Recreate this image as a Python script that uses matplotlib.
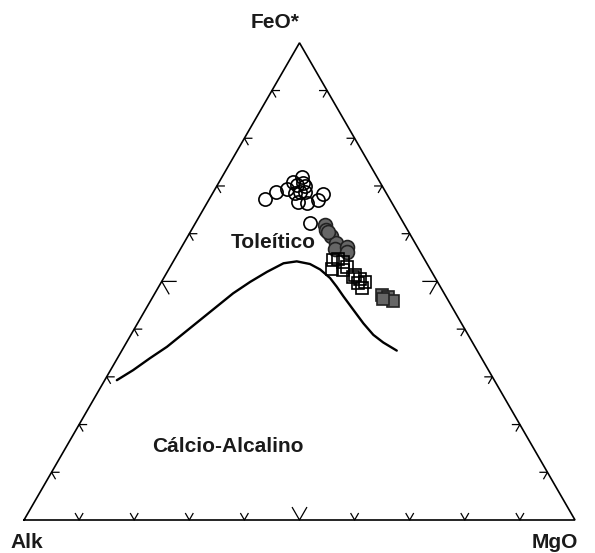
import numpy as np
import matplotlib.pyplot as plt

plt.rcParams['font.family'] = ['Liberation Sans', 'DejaVu Sans']

# AFM compositions (%): FeO*, Alk (Na2O+K2O), MgO
circ_open_feo = [67.3, 68.8, 69.3, 70.9, 71.8, 69.9, 66.7, 66.5, 67.0, 68.4, 62.3, 70.2, 70.6, 68.7, 68.7, 68.5]
circ_open_alk = [22.6, 19.9, 17.7, 15.7, 13.7, 14.1, 16.9, 15.4, 13.1, 11.6, 16.9, 15.4, 14.0, 15.5, 14.6, 16.6]
circ_open_mgo = [10.1, 11.3, 13.0, 13.4, 14.5, 16.0, 16.4, 18.1, 19.9, 20.0, 20.8, 14.4, 15.4, 15.8, 16.7, 14.9]

circ_fill_feo = [61.8, 60.8, 59.5, 58.0, 56.7, 57.3, 56.2, 60.4]
circ_fill_alk = [14.5, 14.7, 14.6, 14.4, 15.2, 12.7, 13.3, 14.6]
circ_fill_mgo = [23.7, 24.5, 25.9, 27.6, 28.1, 30.0, 30.5, 25.0]

sq_open_feo = [54.5, 54.6, 54.1, 52.5, 53.1, 52.4, 51.3, 50.5, 49.9, 49.6, 48.6, 51.0]
sq_open_alk = [16.6, 15.7, 15.0, 17.9, 14.9, 15.9, 14.3, 13.8, 13.1, 14.5, 14.4, 14.7]
sq_open_mgo = [28.9, 29.7, 30.9, 29.6, 32.0, 31.7, 34.4, 35.7, 37.0, 35.9, 37.0, 34.3]

sq_fill_feo = [47.2, 46.8, 45.5, 46.3]
sq_fill_alk = [11.5, 10.5, 9.9, 11.7]
sq_fill_mgo = [41.3, 42.7, 43.6, 42.0]

# tholeiitic / calc-alkaline dividing line
div_feo = [29.3, 31.4, 33.9, 36.3, 39.1, 41.9, 44.7, 47.5, 49.9, 52.0, 53.8,
           54.2, 53.7, 52.5, 50.7, 48.9, 46.9, 44.0, 41.2, 38.8, 37.2, 35.5]
div_alk = [68.5, 64.5, 60.2, 55.9, 51.5, 47.1, 42.7, 38.3, 34.0, 29.9, 26.0,
           23.4, 21.3, 20.0, 19.1, 18.8, 18.6, 18.2, 17.8, 17.2, 16.2, 14.6]
div_mgo = [2.2, 4.1, 5.9, 7.8, 9.4, 11.0, 12.6, 14.2, 16.1, 18.1, 20.2,
           22.4, 25.1, 27.5, 30.2, 32.3, 34.5, 37.8, 41.0, 44.0, 46.6, 49.9]

S3 = np.sqrt(3) / 2


def tern(feo, alk, mgo):
    feo, alk, mgo = (np.asarray(v, float) for v in (feo, alk, mgo))
    tot = feo + alk + mgo
    f, m = feo / tot, mgo / tot
    return m + f / 2, f * S3


fig = plt.figure(figsize=(5.95, 5.53), dpi=100)
ax = fig.add_axes([0, 0, 1, 1])
ax.set_xlim(-24 / 551, 571 / 551)
ax.set_ylim(-33 / 551, 520 / 551)
ax.axis('off')

# triangle frame
ax.plot([0, 1, 0.5, 0], [0, 0, S3, 0], color='black', lw=1.2, solid_joinstyle='miter')

# chevron ticks every 10 %
for i in range(1, 10):
    t = i / 10
    L = 0.026 if i == 5 else 0.0135
    # base
    bx, by = t, 0
    ax.plot([bx - L / 2, bx, bx + L / 2], [by + L * S3, by, by + L * S3], color='black', lw=0.9)
    # left side
    lx, ly = t / 2, t * S3
    ax.plot([lx + L, lx, lx + L / 2], [ly, ly, ly - L * S3], color='black', lw=0.9)
    # right side
    rx, ry = 1 - t / 2, t * S3
    ax.plot([rx - L, rx, rx - L / 2], [ry, ry, ry - L * S3], color='black', lw=0.9)

x, y = tern(div_feo, div_alk, div_mgo)
ax.plot(x, y, color='black', lw=1.7, solid_joinstyle='round', solid_capstyle='round')

x, y = tern(circ_open_feo, circ_open_alk, circ_open_mgo)
ax.plot(x, y, 'o', ms=9.5, mfc='none', mec='black', mew=1.2)
x, y = tern(circ_fill_feo, circ_fill_alk, circ_fill_mgo)
ax.plot(x, y, 'o', ms=10, mfc='#666666', mec='#222222', mew=1.2)
x, y = tern(sq_open_feo, sq_open_alk, sq_open_mgo)
ax.plot(x, y, 's', ms=8.8, mfc='none', mec='black', mew=1.2)
x, y = tern(sq_fill_feo, sq_fill_alk, sq_fill_mgo)
ax.plot(x, y, 's', ms=8.8, mfc='#666666', mec='#222222', mew=1.2)

lbl = dict(fontsize=15, fontweight='bold', color='#1a1a1a', ha='center', va='center')
ax.text(275 / 551 - 24 / 551, (520 - 22) / 551, 'FeO*', **lbl)
ax.text(2.5 / 551, -22.5 / 551, 'Alk', **lbl)
ax.text(531 / 551, -22 / 551, 'MgO', **lbl)
ax.text(249 / 551, 278 / 551, 'Toleítico', **lbl)
ax.text(204 / 551, 74 / 551, 'Cálcio-Alcalino', **lbl)

fig.savefig('out.png', dpi=100)
